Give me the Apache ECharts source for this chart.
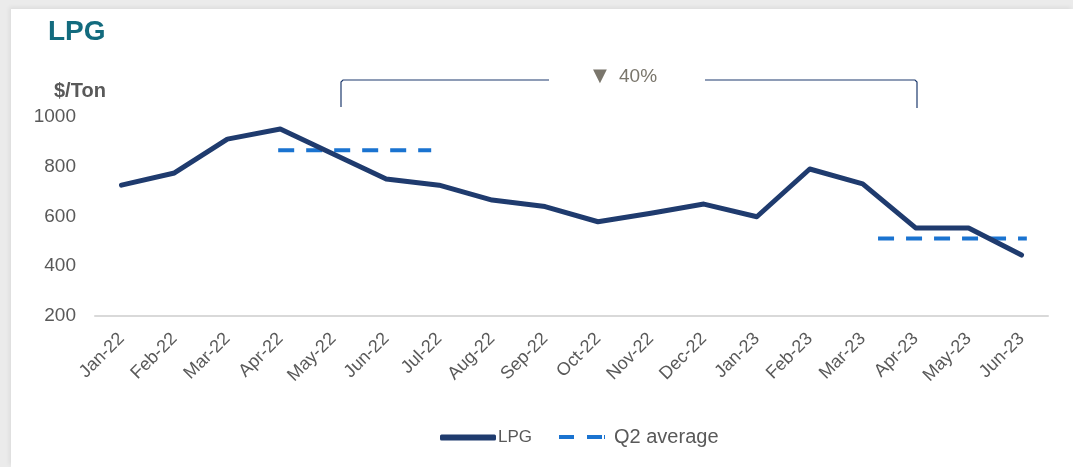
<!DOCTYPE html>
<html>
<head>
<meta charset="utf-8">
<script src="https://cdn.jsdelivr.net/npm/echarts@6/dist/echarts.min.js"></script>
<style>
  html, body { margin: 0; padding: 0; width: 1073px; height: 467px; background: #ebebeb; overflow: hidden; }
  .card { position: absolute; left: 11px; top: 9px; width: 1062px; height: 458px; background: #fff;
          box-shadow: -2px -2px 4px rgba(0,0,0,0.06); }
  .chart { position: absolute; left: 0; top: 0; width: 1073px; height: 467px; }
</style>
</head>
<body>
<div class="card"></div>
<div class="chart" id="chart"></div>
<script>
// monthly LPG price, $/Ton
const months = ['Jan-22', 'Feb-22', 'Mar-22', 'Apr-22', 'May-22', 'Jun-22', 'Jul-22', 'Aug-22', 'Sep-22',
  'Oct-22', 'Nov-22', 'Dec-22', 'Jan-23', 'Feb-23', 'Mar-23', 'Apr-23', 'May-23', 'Jun-23'];
const lpg = [726, 775, 911, 952, 851, 751, 726, 666, 640, 579, 613, 650, 599, 791, 731, 554, 554, 445];

// Q2 averages: value and span in month-index units
const q2Values = [866, 512];
const q2From = [2.96, 14.29];
const q2To = [5.85, 17.1];

const yTicks = [200, 400, 600, 800, 1000];
const changeLabel = '40%';

const grey = '#595959';
const navy = '#1f3b6e';
const blue = '#1a73d0';

const chart = echarts.init(document.getElementById('chart'));

const q2Series = q2Values.map((v, i) => ({
  name: 'Q2 average',
  type: 'line',
  xAxisIndex: 1,
  symbol: 'none',
  silent: true,
  lineStyle: { color: blue, width: 4, type: [16, 12] },
  itemStyle: { color: blue },
  data: [[q2From[i], v], [q2To[i], v]],
  z: 1
}));

chart.setOption({
  animation: false,
  title: [
    { text: 'LPG', left: 43, top: 13, textStyle: { color: '#136b7e', fontSize: 28, fontWeight: 'bold', fontFamily: 'Liberation Sans' } },
    { text: '$/Ton', left: 49, top: 76, textStyle: { color: grey, fontSize: 20, fontWeight: 'bold', fontFamily: 'Liberation Sans' } }
  ],
  grid: { left: 95, right: 25, top: 117, bottom: 151, containLabel: false },
  legend: [
    {
      data: [{ name: 'LPG', icon: 'roundRect', textStyle: { fontSize: 17 } }],
      left: 435, top: 424, itemWidth: 56, itemHeight: 6, itemGap: 2,
      itemStyle: { color: navy, borderWidth: 0 },
      textStyle: { color: grey, fontFamily: 'Liberation Sans', padding: [0, 0, 0, -3] }
    },
    {
      data: [{ name: 'Q2 average', icon: 'path://M0,0h15v4h-15z M28,0h15v4h-15z M45,0h1v4h-1z', textStyle: { fontSize: 20 } }],
      left: 554, top: 422, itemWidth: 46, itemHeight: 4,
      itemStyle: { color: blue, borderWidth: 0 },
      textStyle: { color: grey, fontFamily: 'Liberation Sans', padding: [0, 0, 0, 4] }
    }
  ],
  xAxis: [
    {
      type: 'category',
      data: months,
      axisLine: { lineStyle: { color: '#d9d9d9', width: 2 } },
      axisTick: { show: false },
      axisLabel: { rotate: 45, margin: 20, color: grey, fontSize: 18, fontFamily: 'Liberation Sans', interval: 0 }
    },
    { type: 'value', min: -0.5, max: months.length - 0.5, show: false }
  ],
  yAxis: {
    type: 'value',
    min: yTicks[0],
    max: yTicks[yTicks.length - 1],
    interval: 200,
    axisLine: { show: false },
    axisTick: { show: false },
    splitLine: { show: false },
    axisLabel: { margin: 19, color: grey, fontSize: 19, fontFamily: 'Liberation Sans', formatter: v => String(v) }
  },
  series: [
    {
      name: 'LPG',
      type: 'line',
      data: lpg,
      symbol: 'none',
      lineStyle: { color: navy, width: 5, cap: 'round', join: 'round' },
      itemStyle: { color: navy },
      z: 3
    }
  ].concat(q2Series),
  graphic: [
    {
      type: 'polyline',
      shape: { points: [[341, 107], [341, 82], [343, 80], [549, 80]] },
      style: { stroke: navy, lineWidth: 1.2, fill: null }
    },
    {
      type: 'polyline',
      shape: { points: [[705, 80], [915, 80], [917, 82], [917, 108]] },
      style: { stroke: navy, lineWidth: 1.2, fill: null }
    },
    {
      type: 'text',
      x: 593, y: 67,
      style: { text: '▼', fill: '#7a766c', fontSize: 18, fontFamily: 'DejaVu Sans' }
    },
    {
      type: 'text',
      x: 619, y: 67,
      style: { text: changeLabel, fill: '#7a766c', fontSize: 19, fontFamily: 'Liberation Sans Narrow, Liberation Sans' }
    }
  ]
});
</script>
</body>
</html>
